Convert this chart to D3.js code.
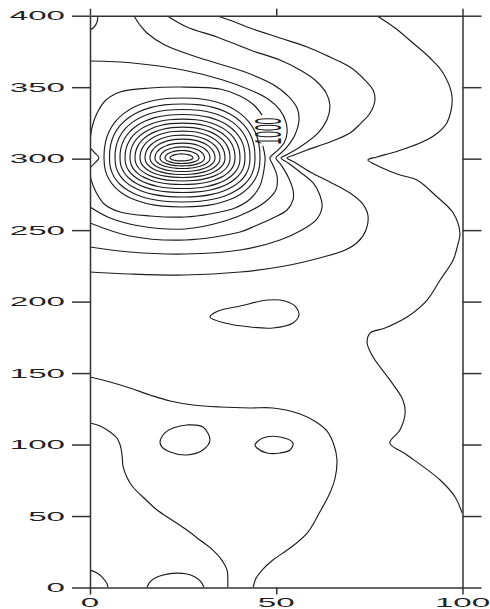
<!DOCTYPE html>
<html>
<head>
<meta charset="utf-8">
<script src="https://cdn.jsdelivr.net/npm/d3@7"></script>
<style>
  html, body { margin: 0; padding: 0; background: #fff; }
  svg { display: block; }
</style>
</head>
<body>
<svg id="chart" width="490" height="609"></svg>
<script>
// ---- axis ticks ----
const xTicks = [0, 50, 100];
const yTicks = [0, 50, 100, 150, 200, 250, 300, 350, 400];

// ---- open contour lines, [x, y] in data units ----
const cornerTopLeft = [[2.1, 400], [1.9, 395.6], [1.1, 392.1], [0, 390]];

const ridge1 = [[34.1,400],[38.9,395.6],[43,391.4],[51,384.4],[58.3,378.1],[64.4,371.1],[69.8,364.1],[73.8,355],[76,348],[76.5,341],[75.2,331.9],[72.5,324.2],[69.8,317.9],[64.4,311.6],[58.3,306.1],[54.8,302.6],[52.9,300.5],[54.8,297.7],[59.1,290.7],[64.4,283.7],[69.8,276],[73,269],[74.6,260.6],[74.1,250.1],[71.9,241.7],[68.5,236.1],[62.6,231.2],[52.3,224.9],[40.3,220.7],[25.5,218.6],[10.7,219.3],[0,220.7]];

const ridge2 = [[20.7,400],[26,392.1],[34.1,385.1],[43,376],[51,369],[56.4,362],[60.4,355],[63.4,345.9],[64.4,337.5],[63.6,327],[61.2,317.9],[56.4,308.2],[53.2,303.3],[51.3,300.5],[53.2,297],[56.4,290.7],[59.9,283],[61.7,274.6],[62.3,266.2],[60.7,257.1],[56.9,250.1],[51,243.1],[40.3,236.1],[25.5,233.3],[10.7,234.7],[0,238.2]];

const ridge3 = [[11.8,400],[13.4,393.5],[15.3,387.9],[20.1,379.5],[29.5,370.4],[41.6,360.6],[48.9,352.2],[53.2,343.8],[55.6,335.4],[56.1,327],[55,316.5],[52.9,308.2],[51,303.3],[49.9,300.5],[51.3,295.6],[53.2,287.2],[54.5,278.1],[54.5,271.1],[52.9,264.1],[49.1,258.5],[44.3,252.9],[40.3,248.7],[25.5,243.1],[10.7,245.9],[0,255]];

const ridge4 = [[0,368.3],[11.5,366.9],[25,362],[35.7,355],[43,348],[47.8,341.7],[51,334],[52.6,325.6],[52.9,317.9],[52.1,310.9],[50.2,305.4],[48.3,300.5],[49.1,295.6],[50.2,287.9],[49.9,278.1],[47,269.7],[43,263.4],[36.2,256.4],[25.5,250.8],[13.4,252.9],[5.4,258.5],[0,266.2]];

// the labelled contour, broken where its label sits
const level1000Upper = [[0,311.6],[0.5,321.4],[1.9,331.9],[4.3,341],[8.1,346.6],[16.1,349.4],[24.2,350.1],[34.9,348.7],[40.3,343.8],[44,337.5],[46.2,330.5]];
const level1000Lower = [[46.4,308.9],[47,300.5],[46.7,292.1],[45.6,280.9],[43,271.8],[38.9,265.5],[32.2,261.3],[25.5,259.2],[16.1,259.9],[8.1,262.7],[3.8,268.3],[1.6,276.7],[0.3,285.1],[0,288.6]];
const level1000Label = "1000";
const level1000LabelAt = [47.8, 319.3];

const leftWedge = [[0,307.5],[1.3,304],[2.4,300.5],[1.3,297],[0,293.5]];

const eastBand = [[77,400],[81.9,391.4],[86.7,380.9],[91.3,370.4],[94.8,359.9],[97.2,343.1],[95.8,324.9],[92.6,316.5],[88.6,310.9],[81.9,304.7],[77,301.2],[74.6,299.1],[77.9,294.2],[83.2,288.6],[87.8,285.1],[92.6,274.6],[97.5,262],[99.3,248],[98.5,237.5],[97.5,229.1],[94,215.1],[90.5,201.1],[85.1,189.2],[79.2,181.5],[75.2,178],[74.4,171],[76,161.2],[80.5,145.2],[84,131.2],[84.6,122.1],[83.2,110.2],[80.5,101.1],[85.1,92.7],[94,75.2],[98,63.3],[99.9,52.1]];

const lowerBand = [[0,147.3],[5.4,143.8],[10.7,139.6],[16.1,134.7],[21.5,130.5],[27.7,127.7],[34.9,126.3],[43,125.6],[49.1,125.6],[56.4,121.4],[60.7,115.8],[63.6,109.5],[65.5,99.7],[66.3,89.2],[65.8,76.6],[64.4,66.1],[61.7,52.8],[58.3,38.1],[53.7,27.6],[49.1,19.2],[46.2,12.2],[44.6,6.6],[43.8,0]];

const lowerWest = [[0,115.1],[2.7,113],[5.4,108.8],[7.2,104.6],[8.1,99.7],[8.6,92.7],[8.9,84.3],[10,76.6],[11.5,70.3],[14.8,61.9],[18,54.2],[22,47.2],[26,40.2],[29.5,33.2],[33,26.2],[35.4,19.2],[36.8,12.2],[37,5.3],[37,0]];

const cornerBottomLeft = [[0,12.2],[1.9,10.1],[3.5,6.6],[4.6,2.4],[4.8,0]];

const bottomBump = [[15.3,0],[16.1,3.9],[18,7.3],[20.7,9.4],[23.4,10.1],[26,9.4],[28.2,7.3],[29.8,3.9],[30.6,0]];

// ---- closed contour loops ----
const loopA = [[18.8,101.8],[20.1,108.1],[22.3,111.6],[26,113.7],[30.3,112.3],[32.2,103.2],[30.3,96.2],[26,92.7],[21.5,94.8],[19.3,98.3]];
const loopB = [[44.3,99.7],[46.4,104.6],[51,105.3],[54.5,101.1],[53.7,96.2],[51,94.1],[47.5,94.1],[44.8,97.6]];
const loopC = [[32.2,189.2],[34.4,193.4],[40.3,196.9],[47.8,201.1],[52.3,200.4],[55.3,196.2],[56.1,190.6],[54.5,185],[49.1,181.5],[43,182.2],[36.2,185]];

// ---- rings round the main peak: [top, bottom, left, right] ----
const peakRingY = 300.5;
const peakRings = [
  [342.4, 266.2,  3.76, 45.64],
  [338.2, 269.7,  5.23, 44.30],
  [334.4, 273.2,  6.71, 42.95],
  [330.9, 276.3,  8.05, 41.61],
  [327.7, 279.1,  9.40, 40.27],
  [324.9, 281.9, 10.74, 38.93],
  [322.1, 284.4, 12.08, 37.58],
  [319.3, 286.8, 13.42, 36.24],
  [316.5, 288.9, 14.77, 34.90],
  [313.7, 291.0, 16.11, 33.56],
  [310.9, 293.1, 17.45, 32.21],
  [308.2, 294.9, 18.79, 30.74],
  [305.7, 296.6, 20.13, 29.26],
  [303.3, 298.4, 21.48, 27.65]
];

// ---- drawing ----
const svg = d3.select("#chart");
const W = 490, H = 609;
const x = d3.scaleLinear().domain([0, 100]).range([90, 462.5]);
const y = d3.scaleLinear().domain([0, 400]).range([587.5, 15.7]);

svg.append("rect").attr("width", W).attr("height", H).attr("fill", "#fff");

svg.append("defs").append("clipPath").attr("id", "plotClip")
  .append("rect")
  .attr("x", x(0)).attr("y", y(400))
  .attr("width", x(100) - x(0)).attr("height", y(0) - y(400));

const lineColor = "#1c1c1c";
const plot = svg.append("g").attr("clip-path", "url(#plotClip)");

const openLine = d3.line().x(d => x(d[0])).y(d => y(d[1])).curve(d3.curveCatmullRom.alpha(0.5));
const closedLine = d3.line().x(d => x(d[0])).y(d => y(d[1])).curve(d3.curveCatmullRomClosed.alpha(0.5));

const openSet = [cornerTopLeft, ridge1, ridge2, ridge3, ridge4, level1000Upper, level1000Lower,
  leftWedge, eastBand, lowerBand, lowerWest, cornerBottomLeft, bottomBump];
const loopSet = [loopA, loopB, loopC];

// rounded outline of one peak ring spanning its four extents;
// outer rings slightly squarer, inner ones elliptical
function ringOutline(r, i) {
  const [top, bottom, left, right] = r;
  const cx = (left + right) / 2, cy = peakRingY;
  const p = 2 / (2.35 - 0.35 * i / (peakRings.length - 1));
  const pts = [];
  for (let j = 0; j < 32; j++) {
    const t = (j / 32) * 2 * Math.PI;
    const c = Math.cos(t), s = Math.sin(t);
    const ex = Math.sign(c) * Math.pow(Math.abs(c), p);
    const ey = Math.sign(s) * Math.pow(Math.abs(s), p);
    pts.push([
      cx + ex * (ex < 0 ? cx - left : right - cx),
      cy + ey * (ey > 0 ? top - cy : cy - bottom)
    ]);
  }
  return pts;
}

plot.selectAll("path.open").data(openSet).join("path")
  .attr("class", "open").attr("d", openLine)
  .attr("fill", "none").attr("stroke", lineColor).attr("stroke-width", 1.15)
  .attr("stroke-linejoin", "round");

plot.selectAll("path.loop").data(loopSet).join("path")
  .attr("class", "loop").attr("d", closedLine)
  .attr("fill", "none").attr("stroke", lineColor).attr("stroke-width", 1.15);

plot.selectAll("path.ring").data(peakRings.map(ringOutline)).join("path")
  .attr("class", "ring").attr("d", closedLine)
  .attr("fill", "none").attr("stroke", lineColor).attr("stroke-width", 1.15);

// contour label
svg.append("text")
  .attr("transform", `translate(${x(level1000LabelAt[0])},${y(level1000LabelAt[1])}) scale(3.1,1) rotate(-90)`)
  .attr("text-anchor", "middle").attr("dy", "0.36em")
  .style("font-family", "'Liberation Sans', Arial, sans-serif").style("font-size", "12px")
  .attr("fill", lineColor)
  .text(level1000Label);

// ---- frame and ticks ----
const axisColor = "#333";
function styleAxis(g) {
  g.selectAll(".domain").attr("stroke", axisColor).attr("stroke-width", 1.5);
  g.selectAll(".tick line").attr("stroke", axisColor).attr("stroke-width", 1.5);
  g.selectAll(".tick text").remove();
}
svg.append("g").attr("transform", `translate(${x(0)},0)`)
  .call(d3.axisLeft(y).tickValues(yTicks).tickSize(18).tickSizeOuter(0).tickFormat("")).call(styleAxis);
svg.append("g").attr("transform", `translate(${x(100)},0)`)
  .call(d3.axisRight(y).tickValues(yTicks).tickSize(19).tickSizeOuter(0).tickFormat("")).call(styleAxis);
svg.append("g").attr("transform", `translate(0,${y(400)})`)
  .call(d3.axisTop(x).tickValues(xTicks).tickSize(7).tickSizeOuter(0).tickFormat("")).call(styleAxis);
svg.append("g").attr("transform", `translate(0,${y(0)})`)
  .call(d3.axisBottom(x).tickValues(xTicks).tickSize(7).tickSizeOuter(0).tickFormat("")).call(styleAxis);

// tick labels, drawn wide
const labelFont = "'Liberation Sans', Arial, sans-serif";
svg.selectAll("text.ylab").data(yTicks).join("text")
  .attr("class", "ylab")
  .attr("transform", d => `translate(65,${y(d) + 4.6}) scale(2.65,1)`)
  .attr("text-anchor", "end")
  .style("font-family", labelFont).style("font-size", "12.5px")
  .attr("fill", "#222")
  .text(d => d);

svg.selectAll("text.xlab").data(xTicks).join("text")
  .attr("class", "xlab")
  .attr("transform", d => `translate(${x(d)},607) scale(2.65,1)`)
  .attr("text-anchor", "middle")
  .style("font-family", labelFont).style("font-size", "12.5px")
  .attr("fill", "#222")
  .text(d => d);
</script>
</body>
</html>
